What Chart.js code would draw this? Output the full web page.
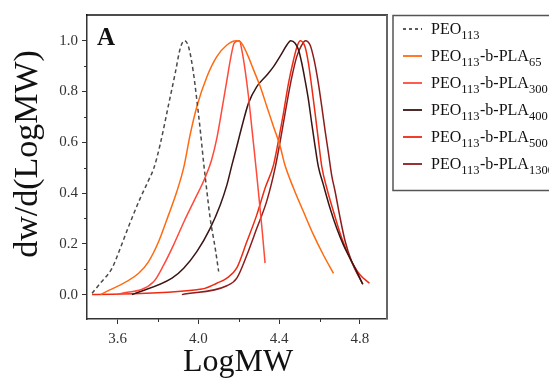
<!DOCTYPE html>
<html><head><meta charset="utf-8">
<script src="https://cdn.jsdelivr.net/npm/chart.js@4/dist/chart.umd.min.js"></script>
<style>html,body{margin:0;padding:0;background:#fff;}#wrap{width:549px;height:378px;position:relative;}</style>
</head><body><div id="wrap"><canvas id="c" width="549" height="378"></canvas></div>
<script>
// ---- data ----
const xTitle = 'LogMW';
const yTitle = 'dw/d(LogMW)';
const panelLabel = 'A';
const xMinorTicks = [3.8, 4.2, 4.6];
const yMinorTicks = [0.1, 0.3, 0.5, 0.7, 0.9];

const peoX = [3.473, 3.514, 3.572, 3.613, 3.654, 3.712, 3.750, 3.780, 3.810, 3.850, 3.885, 3.910, 3.930, 3.951, 3.973, 3.992, 4.009, 4.026, 4.042, 4.058, 4.083, 4.100];
const peoY = [0.005, 0.045, 0.104, 0.183, 0.268, 0.380, 0.445, 0.500, 0.590, 0.740, 0.872, 0.970, 1.0, 0.976, 0.885, 0.767, 0.648, 0.517, 0.406, 0.301, 0.183, 0.091];

const pla65X = [3.515, 3.704, 3.753, 3.803, 3.852, 3.893, 3.927, 3.959, 3.992, 4.042, 4.091, 4.141, 4.187, 4.207, 4.240, 4.273, 4.306, 4.339, 4.372, 4.405, 4.428, 4.471, 4.520, 4.570, 4.619, 4.669];
const pla65Y = [0.0, 0.084, 0.130, 0.209, 0.314, 0.406, 0.500, 0.630, 0.740, 0.858, 0.937, 0.983, 1.0, 0.996, 0.950, 0.885, 0.819, 0.740, 0.661, 0.583, 0.511, 0.419, 0.327, 0.235, 0.156, 0.084];

const pla300X = [3.597, 3.778, 3.828, 3.877, 3.930, 3.980, 4.030, 4.065, 4.091, 4.116, 4.141, 4.161, 4.177, 4.203, 4.215, 4.231, 4.248, 4.262, 4.276, 4.289, 4.302, 4.316, 4.330];
const pla300Y = [0.0, 0.051, 0.117, 0.196, 0.290, 0.372, 0.455, 0.530, 0.615, 0.727, 0.845, 0.937, 0.990, 1.0, 0.963, 0.885, 0.780, 0.675, 0.570, 0.470, 0.365, 0.250, 0.124];

const pla400X = [3.671, 3.869, 3.927, 3.992, 4.058, 4.108, 4.141, 4.166, 4.190, 4.215, 4.248, 4.289, 4.339, 4.372, 4.413, 4.438, 4.457, 4.479, 4.496, 4.512, 4.528, 4.545, 4.561, 4.578, 4.594, 4.619, 4.652, 4.685, 4.718, 4.751, 4.784, 4.814];
const pla400Y = [0.0, 0.065, 0.104, 0.169, 0.261, 0.353, 0.432, 0.511, 0.583, 0.661, 0.754, 0.819, 0.865, 0.898, 0.950, 0.983, 1.0, 0.990, 0.963, 0.911, 0.845, 0.767, 0.675, 0.583, 0.504, 0.432, 0.340, 0.261, 0.196, 0.143, 0.091, 0.041];

const pla500X = [3.473, 4.017, 4.091, 4.141, 4.190, 4.240, 4.289, 4.330, 4.372, 4.397, 4.421, 4.446, 4.471, 4.491, 4.505, 4.528, 4.545, 4.561, 4.578, 4.594, 4.611, 4.636, 4.669, 4.710, 4.751, 4.800, 4.847];
const pla500Y = [0.0, 0.022, 0.045, 0.065, 0.105, 0.209, 0.314, 0.419, 0.511, 0.609, 0.714, 0.832, 0.924, 0.983, 1.0, 0.976, 0.911, 0.819, 0.714, 0.609, 0.504, 0.419, 0.327, 0.222, 0.143, 0.078, 0.045];

const pla1300X = [3.918, 4.141, 4.190, 4.240, 4.289, 4.339, 4.380, 4.413, 4.438, 4.463, 4.487, 4.512, 4.530, 4.553, 4.573, 4.594, 4.611, 4.627, 4.644, 4.660, 4.677, 4.702, 4.727, 4.759, 4.814];
const pla1300Y = [0.0, 0.035, 0.065, 0.156, 0.261, 0.370, 0.500, 0.640, 0.754, 0.858, 0.937, 0.983, 1.0, 0.983, 0.924, 0.832, 0.740, 0.648, 0.557, 0.470, 0.406, 0.301, 0.209, 0.130, 0.041];

// legend text pieces: [normal, subscript, normal, subscript]
const legendParts = [
  ['PEO', '113'],
  ['PEO', '113', '-b-PLA', '65'],
  ['PEO', '113', '-b-PLA', '300'],
  ['PEO', '113', '-b-PLA', '400'],
  ['PEO', '113', '-b-PLA', '500'],
  ['PEO', '113', '-b-PLA', '1300']
];

// ---- styles ----
const colors = ['#4a4a4a', '#FF6A10', '#FF4A3A', '#3A1414', '#EE2A12', '#8E1C1C'];
const dashes = [[4, 3], [], [], [], [], []];
const seriesX = [peoX, pla65X, pla300X, pla400X, pla500X, pla1300X];
const seriesY = [peoY, pla65Y, pla300Y, pla400Y, pla500Y, pla1300Y];

const SERIF = '"Liberation Serif", "DejaVu Serif", serif';

const datasets = seriesX.map((xs, i) => ({
  label: legendParts[i].join(''),
  data: xs.map((x, k) => ({x: x, y: seriesY[i][k]})),
  borderColor: colors[i],
  borderWidth: 1.5,
  borderDash: dashes[i],
  pointRadius: 0,
  fill: false,
  cubicInterpolationMode: 'monotone'
}));

const decorPlugin = {
  id: 'decor',
  afterDraw(chart) {
    const {ctx, chartArea: a, scales: {x, y}} = chart;
    ctx.save();
    // frame top + right
    ctx.strokeStyle = '#111'; ctx.lineWidth = 1.5;
    ctx.beginPath(); ctx.moveTo(a.left - 1, a.top); ctx.lineTo(a.right + 1, a.top); ctx.stroke();
    ctx.strokeStyle = '#666'; ctx.lineWidth = 2;
    ctx.beginPath(); ctx.moveTo(a.right, a.top); ctx.lineTo(a.right, a.bottom); ctx.stroke();
    // minor ticks
    ctx.strokeStyle = '#333'; ctx.lineWidth = 1;
    xMinorTicks.forEach(v => {
      const px = Math.round(x.getPixelForValue(v)) + 0.5;
      ctx.beginPath(); ctx.moveTo(px, a.bottom); ctx.lineTo(px, a.bottom + 3); ctx.stroke();
    });
    yMinorTicks.forEach(v => {
      const py = Math.round(y.getPixelForValue(v)) + 0.5;
      ctx.beginPath(); ctx.moveTo(a.left, py); ctx.lineTo(a.left - 3, py); ctx.stroke();
    });
    // axis titles
    ctx.fillStyle = '#111';
    ctx.font = '32px ' + SERIF;
    ctx.textAlign = 'center'; ctx.textBaseline = 'alphabetic';
    ctx.fillText(xTitle, (a.left + a.right) / 2 + 1, 371);
    ctx.save();
    ctx.translate(37, 154);
    ctx.rotate(-Math.PI / 2);
    ctx.font = '34px ' + SERIF;
    ctx.fillText(yTitle, 0, 0);
    ctx.restore();
    // panel label
    ctx.font = 'bold 25px ' + SERIF;
    ctx.textAlign = 'left';
    ctx.fillText(panelLabel, 97, 45);
    // legend box
    ctx.strokeStyle = '#555'; ctx.lineWidth = 1.5;
    ctx.strokeRect(393, 15.5, 200, 175);
    const rowY0 = 29, rowStep = 27;
    legendParts.forEach((parts, i) => {
      const cy = rowY0 + i * rowStep;
      ctx.strokeStyle = colors[i]; ctx.lineWidth = 1.8;
      ctx.setLineDash(dashes[i].length ? [3, 3] : []);
      ctx.beginPath(); ctx.moveTo(403, cy); ctx.lineTo(422, cy); ctx.stroke();
      ctx.setLineDash([]);
      let tx = 431;
      const base = cy + 5;
      ctx.fillStyle = '#111';
      parts.forEach((p, k) => {
        if (k % 2 === 0) {
          ctx.font = '16px ' + SERIF;
          ctx.fillText(p, tx, base);
        } else {
          ctx.font = '12.5px ' + SERIF;
          ctx.fillText(p, tx, base + 5);
        }
        tx += ctx.measureText(p).width + (k % 2 === 1 ? 0.5 : 0);
      });
    });
    ctx.restore();
  }
};

new Chart(document.getElementById('c'), {
  type: 'line',
  data: {datasets: datasets},
  options: {
    responsive: false,
    animation: false,
    layout: {padding: {left: 0, top: 15, right: 162, bottom: 0}},
    plugins: {legend: {display: false}, tooltip: {enabled: false}},
    scales: {
      x: {
        type: 'linear',
        min: 3.448, max: 4.934,
        afterFit(s) { s.height = 59; },
        ticks: {
          stepSize: 0.4, includeBounds: false, padding: 6,
          color: '#333', font: {family: SERIF, size: 15},
          maxRotation: 0,
          callback: v => v.toFixed(1)
        },
        grid: {drawOnChartArea: false, drawTicks: true, tickLength: 5, color: '#333', lineWidth: 1},
        border: {display: true, color: '#333', width: 1.5}
      },
      y: {
        type: 'linear',
        min: -0.096, max: 1.101,
        afterFit(s) { s.width = 87; },
        ticks: {
          stepSize: 0.2, includeBounds: false, padding: 4,
          color: '#333', font: {family: SERIF, size: 15},
          callback: v => v.toFixed(1)
        },
        grid: {drawOnChartArea: false, drawTicks: true, tickLength: 5, color: '#333', lineWidth: 1},
        border: {display: true, color: '#333', width: 1.5}
      }
    }
  },
  plugins: [decorPlugin]
});
</script>
</body></html>
